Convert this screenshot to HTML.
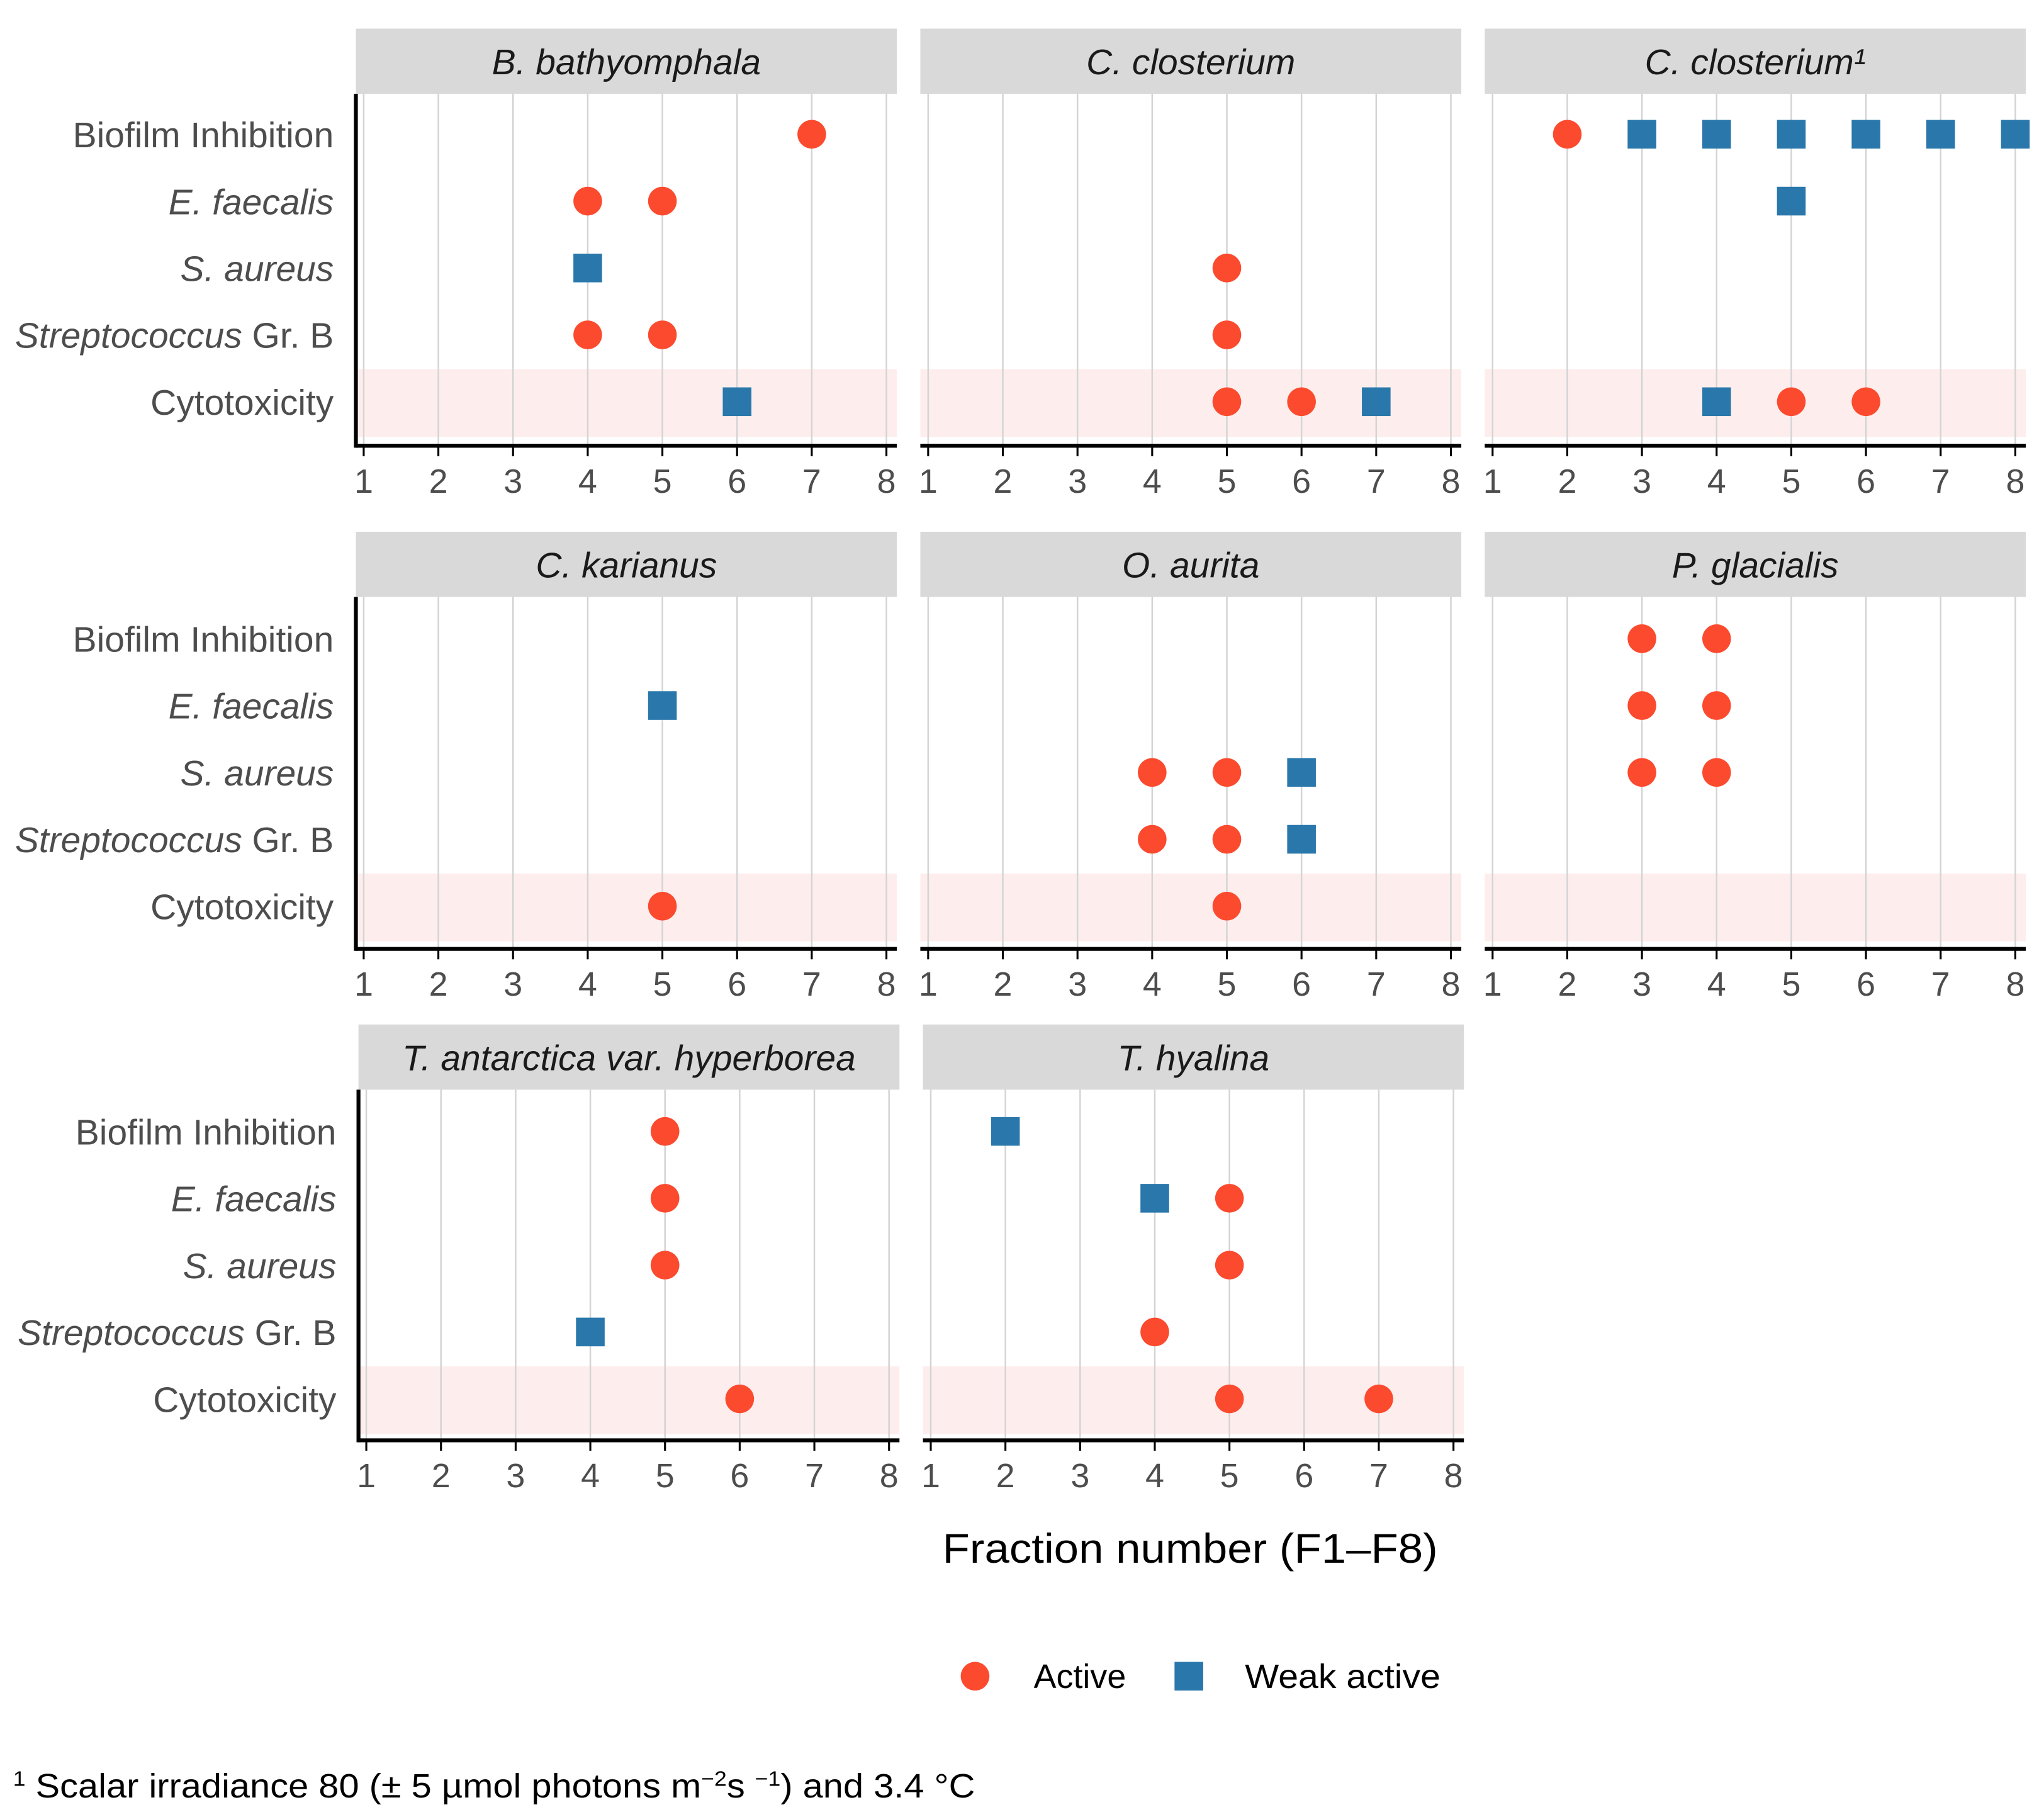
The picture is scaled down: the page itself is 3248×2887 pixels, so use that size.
<!DOCTYPE html>
<html><head><meta charset="utf-8"><style>
html,body{margin:0;padding:0;background:#fff;}
svg{display:block;font-family:"Liberation Sans",Arial,sans-serif;}
</style></head><body>
<svg id="chart" width="3248" height="2887" viewBox="0 0 1568 1394" preserveAspectRatio="none" xmlns="http://www.w3.org/2000/svg">
<g id="panels"></g>
<text x="913" y="1199" font-size="32" text-anchor="middle" fill="#000" textLength="380" lengthAdjust="spacingAndGlyphs">Fraction number (F1–F8)</text>
<g>
<circle cx="748" cy="1286" r="11" fill="#fc4a2e"/>
<text x="793" y="1295" font-size="26" fill="#000">Active</text>
<rect x="901" y="1275" width="22" height="22" fill="#2a78ab"/>
<text x="955" y="1295" font-size="26" fill="#000" textLength="150" lengthAdjust="spacingAndGlyphs">Weak active</text>
</g>
<text x="10" y="1379" font-size="26" fill="#000" textLength="738" lengthAdjust="spacingAndGlyphs"><tspan font-size="16" dy="-9">1</tspan><tspan dy="9"> Scalar irradiance 80 (± 5 µmol photons m</tspan><tspan font-size="16" dy="-9">−2</tspan><tspan dy="9">s </tspan><tspan font-size="16" dy="-9">−1</tspan><tspan dy="9">) and 3.4 °C</tspan></text>
</svg>
<script>
const categories = ["Biofilm Inhibition","E. faecalis","S. aureus","Streptococcus Gr. B","Cytotoxicity"];
const species = ["B. bathyomphala","C. closterium","C. closterium¹","C. karianus","O. aurita","P. glacialis","T. antarctica var. hyperborea","T. hyalina"];
const xTicks = [1,2,3,4,5,6,7,8];
// each: [speciesIndex, categoryIndex, fraction]
const activePoints = [
 [0,0,7],[0,1,4],[0,1,5],[0,3,4],[0,3,5],
 [1,2,5],[1,3,5],[1,4,5],[1,4,6],
 [2,0,2],[2,4,5],[2,4,6],
 [3,4,5],
 [4,2,4],[4,2,5],[4,3,4],[4,3,5],[4,4,5],
 [5,0,3],[5,0,4],[5,1,3],[5,1,4],[5,2,3],[5,2,4],
 [6,0,5],[6,1,5],[6,2,5],[6,4,6],
 [7,1,5],[7,2,5],[7,3,4],[7,4,5],[7,4,7]
];
const weakPoints = [
 [0,2,4],[0,4,6],
 [1,4,7],
 [2,0,3],[2,0,4],[2,0,5],[2,0,6],[2,0,7],[2,0,8],[2,1,5],[2,4,4],
 [3,1,5],
 [4,2,6],[4,3,6],
 [6,3,4],
 [7,0,2],[7,1,4]
];

const NS="http://www.w3.org/2000/svg";
const root=document.getElementById('panels');
function mk(tag,attrs,parent){const e=document.createElementNS(NS,tag);for(const k in attrs)e.setAttribute(k,attrs[k]);(parent||root).appendChild(e);return e;}
const colX=[[273,688],[706,1121],[1139,1554]];
const rowY=[{strip:22,top:72,cat0:103,axis:342},{strip:408,top:458,cat0:490,axis:728},{strip:786,top:836,cat0:868,axis:1105}];
const catStep=51.3;
function layout(i){const r=Math.floor(i/3),c=i%3;const dx=(r===2)?2:0;return {x0:colX[c][0]+dx,x1:colX[c][1]+dx,row:rowY[r],col:c};}
function xScale(L,v){return L.x0+6+(v-1)*(L.x1-L.x0-14)/7;}
function yScale(L,ci){return L.row.cat0+ci*catStep;}

species.forEach((sp,i)=>{
  const L=layout(i);
  const g=mk('g',{});
  
  
  const w=L.x1-L.x0;
  const strip=mk('rect',{x:L.x0,y:L.row.strip,width:w,height:50,fill:'#d9d9d9'},g);
  
  
  const st=mk('text',{x:(L.x0+L.x1)/2,y:L.row.strip+35,'font-size':27.5,'font-style':'italic','text-anchor':'middle',fill:'#1a1a1a'},g);
  st.textContent=sp;
  
  
  const band=mk('rect',{x:L.x0,y:yScale(L,4)-25,width:w,height:52,fill:'#fdeeed'},g);
  
  
  xTicks.forEach(t=>{
    const x=xScale(L,t);
    const gl=mk('line',{x1:x,x2:x,y1:L.row.top,y2:L.row.axis,stroke:'#d4d4d4','stroke-width':1.2},g);
    
    
    const tk=mk('line',{x1:x,x2:x,y1:L.row.axis,y2:L.row.axis+8,stroke:'#000','stroke-width':1.5},g);
    
    
    const tl=mk('text',{x:x,y:L.row.axis+36,'font-size':26,'text-anchor':'middle',fill:'#4d4d4d'},g);
    tl.textContent=t;
    
    
  });
  const ax=mk('line',{x1:L.x0,x2:L.x1,y1:L.row.axis,y2:L.row.axis,stroke:'#000','stroke-width':3},g);
  
  
  if(L.col===0){
    const ay=mk('line',{x1:L.x0,x2:L.x0,y1:L.row.top,y2:L.row.axis+1.5,stroke:'#000','stroke-width':3},g);
    
    
    categories.forEach((c,ci)=>{
      const y=yScale(L,ci)+10;
      const t=mk('text',{x:L.x0-17,y:y,'font-size':27.5,'text-anchor':'end',fill:'#4d4d4d'},g);
      if(ci===1||ci===2){t.setAttribute('font-style','italic');t.textContent=c;}
      else if(ci===3){const a=mk('tspan',{'font-style':'italic'},t);a.textContent='Streptococcus';const b=mk('tspan',{},t);b.textContent=' Gr. B';}
      else t.textContent=c;
      
      
    });
  }
});
activePoints.forEach(p=>{
  const L=layout(p[0]);
  const c=mk('circle',{cx:xScale(L,p[2]),cy:yScale(L,p[1]),r:11,fill:'#fc4a2e'});
  
  
});
weakPoints.forEach(p=>{
  const L=layout(p[0]);
  const r=mk('rect',{x:xScale(L,p[2])-11,y:yScale(L,p[1])-11,width:22,height:22,fill:'#2a78ab'});
  
  
});
</script>
</body></html>
